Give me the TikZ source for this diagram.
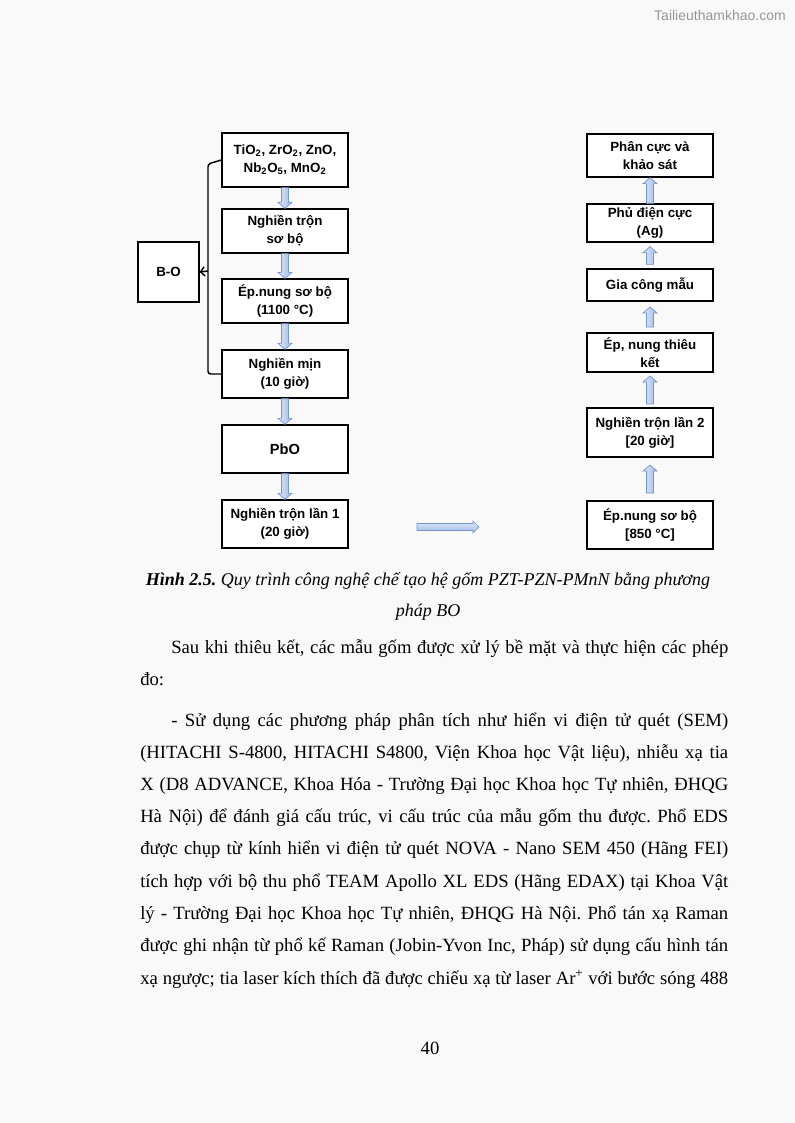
\documentclass[tikz,border=0pt]{standalone}
\usepackage{fontspec}
\setmainfont{Liberation Serif}
\newfontfamily\boxfont{Liberation Sans}
\usetikzlibrary{calc,arrows.meta,positioning}
\frenchspacing

\definecolor{pagebg}{RGB}{249,249,249}
\definecolor{arrlight}{RGB}{222,232,248}
\definecolor{arrdark}{RGB}{160,186,230}
\definecolor{arrline}{RGB}{118,148,204}
\definecolor{markgray}{RGB}{150,150,150}

\newlength\linew
\setlength\linew{441pt}
\newcommand\jtext[1]{\hbox to \linew{#1}}
\newcommand\itext[1]{\hbox to \linew{\hskip 23.25pt #1}}

% block arrow between two boxes: from, to, head offset, gap
\newcommand\blockarrow[4]{%
  \coordinate (ba) at ($(#1)!#4!(#2)$);
  \coordinate (bb) at ($(#2)!#4!(#1)$);
  \path[blockarr] ($(ba)+(-3.5,0)$) -- ($(bb)+(-3.5,#3)$) -- ($(bb)+(-7,#3)$) -- (bb)
    -- ($(bb)+(7,#3)$) -- ($(bb)+(3.5,#3)$) -- ($(ba)+(3.5,0)$) -- cycle;}

\begin{document}
\begin{tikzpicture}[
    x=0.75pt, y=-0.75pt,
    box/.style={
        draw,
        line width=1pt,
        fill=white,
        minimum width=126*0.75pt,
        align=center,
        inner sep=1pt,
        font=\boxfont\bfseries\fontsize{10}{13.5}\selectfont
    },
    boxh/.style={minimum height=#1*0.75pt},
    blockarr/.style={left color=arrlight, right color=arrdark, draw=arrline, line width=0.5pt},
    bracket/.style={line width=1.1pt},
    bodyline/.style={anchor=base west, inner sep=0pt, font=\fontsize{14}{16}\selectfont}
]
\fill[pagebg] (0,0) rectangle (794,1123);
\useasboundingbox (0,0) rectangle (794,1123);

\node[anchor=mid east, inner sep=0pt, text=markgray, font=\boxfont\fontsize{10.5}{12}\selectfont] (mark) at (786,17) {Tailieuthamkhao.com};

% left column
\node[box, boxh=54] (l1) at (285,160) {TiO\textsubscript{2}, ZrO\textsubscript{2}, ZnO,\\ Nb\textsubscript{2}O\textsubscript{5}, MnO\textsubscript{2}};
\node[box, boxh=44] (l2) at (285,231) {Nghiền trộn\\ sơ bộ};
\node[box, boxh=44] (l3) at (285,301) {Ép.nung sơ bộ\\ {(1100 °C)}};
\node[box, boxh=48] (l4) at (285,374) {Nghiền mịn\\ {(10 giờ)}};
\node[box, boxh=48, font=\boxfont\bfseries\fontsize{11}{13}\selectfont] (l5) at (285,449) {PbO};
\node[box, boxh=48] (l6) at (285,524) {Nghiền trộn lần 1\\ {(20 giờ)}};
\node[box, boxh=60, minimum width=61*0.75pt] (bo) at (168.5,272) {B-O};

% right column
\node[box, boxh=48] (r1) at (650,525) {Ép.nung sơ bộ\\ {[850 °C]}};
\node[box, boxh=49] (r2) at (650,432.5) {Nghiền trộn lần 2\\ {[20 giờ]}};
\node[box, boxh=39] (r3) at (650,352.5) {Ép, nung thiêu\\ kết};
\node[box, boxh=32] (r4) at (650,285) {Gia công mẫu};
\node[box, boxh=38] (r5) at (650,223) {Phủ điện cực\\ {(Ag)}};
\node[box, boxh=43] (r6) at (650,155.5) {Phân cực và\\ khảo sát};

\blockarrow{l1.south}{l2.north}{-6}{0pt}
\blockarrow{l2.south}{l3.north}{-6}{0pt}
\blockarrow{l3.south}{l4.north}{-6}{0pt}
\blockarrow{l4.south}{l5.north}{-6}{0pt}
\blockarrow{l5.south}{l6.north}{-6}{0pt}

\blockarrow{r1.north}{r2.south}{6}{5.5pt}
\blockarrow{r2.north}{r3.south}{6}{2.5pt}
\blockarrow{r3.north}{r4.south}{6}{4pt}
\blockarrow{r4.north}{r5.south}{6}{3pt}
\blockarrow{r5.north}{r6.south}{6}{0pt}

% arrow across to the right column
\coordinate (ha) at (417,527);
\coordinate (hb) at (479,527);
\path[blockarr, top color=arrlight, bottom color=arrdark] ($(ha)+(0,-3.5)$) -- ($(hb)+(-6,-3.5)$) -- ($(hb)+(-6,-6)$) -- (hb)
    -- ($(hb)+(-6,6)$) -- ($(hb)+(-6,3.5)$) -- ($(ha)+(0,3.5)$) -- cycle;

% bracket to B-O
\coordinate (bt) at (208,164);
\coordinate (bm) at (208,271);
\coordinate (bd) at (208,374);
\draw[bracket, rounded corners=2pt] (l1.west) -- (bt) -- (bd) -- (l4.west);
\draw[bracket, -{Straight Barb[length=3pt,width=7pt]}] (bm) -- (bo.east);

% caption
\node[anchor=base, inner sep=0pt, font=\fontsize{13.5}{15}\selectfont] (cap1) at (428,585)
  {\textbf{\textit{Hình 2.5.}} \textit{Quy trình công nghệ chế tạo hệ gốm PZT-PZN-PMnN bằng phương}};
\node[anchor=base, inner sep=0pt, font=\fontsize{13.5}{15}\selectfont] (cap2) at (428,616) {\textit{pháp BO}};

% body text
\node[bodyline] (t1) at (140,653) {\itext{Sau khi thiêu kết, các mẫu gốm được xử lý bề mặt và thực hiện các phép}};
\node[bodyline] (t2) at (140,685) {đo:};
\node[bodyline] (t3) at (140,726) {\itext{- Sử dụng các phương pháp phân tích như hiển vi điện tử quét (SEM)}};
\node[bodyline] (t4) at (140,758) {\jtext{(HITACHI S-4800, HITACHI S4800, Viện Khoa học Vật liệu), nhiễu xạ tia}};
\node[bodyline] (t5) at (140,790) {\jtext{X (D8 ADVANCE, Khoa Hóa - Trường Đại học Khoa học Tự nhiên, ĐHQG}};
\node[bodyline] (t6) at (140,822) {\jtext{Hà Nội) để đánh giá cấu trúc, vi cấu trúc của mẫu gốm thu được. Phổ EDS}};
\node[bodyline] (t7) at (140,854) {\jtext{được chụp từ kính hiển vi điện tử quét NOVA - Nano SEM 450 (Hãng FEI)}};
\node[bodyline] (t8) at (140,887) {\jtext{tích hợp với bộ thu phổ TEAM Apollo XL EDS (Hãng EDAX) tại Khoa Vật}};
\node[bodyline] (t9) at (140,919) {\jtext{lý - Trường Đại học Khoa học Tự nhiên, ĐHQG Hà Nội. Phổ tán xạ Raman}};
\node[bodyline] (t10) at (140,951) {\jtext{được ghi nhận từ phổ kế Raman (Jobin-Yvon Inc, Pháp) sử dụng cấu hình tán}};
\node[bodyline] (t11) at (140,984) {\jtext{xạ ngược; tia laser kích thích đã được chiếu xạ từ laser Ar\textsuperscript{+} với bước sóng 488}};

\node[anchor=base, inner sep=0pt, font=\fontsize{14}{16}\selectfont] (pnum) at (430,1054) {40};
\end{tikzpicture}
\end{document}
